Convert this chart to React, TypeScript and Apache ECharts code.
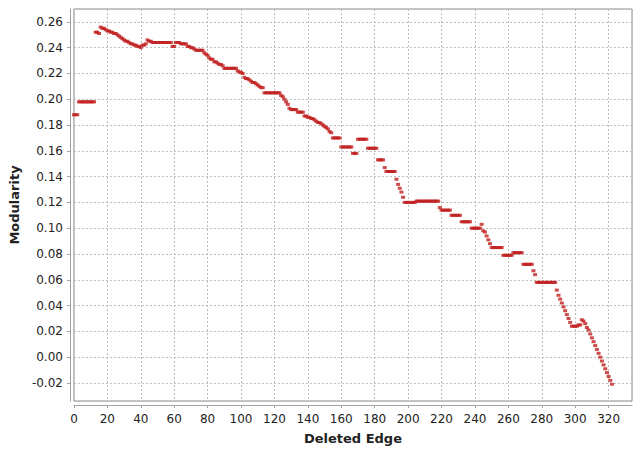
import React, { useEffect, useRef } from 'react';
import * as echarts from 'echarts';

// Modularity value after each deleted edge (index = number of deleted edges)
const modularity: number[] = [
  // 0-12
  0.188, 0.188, 0.188, 0.198, 0.198, 0.198, 0.198, 0.198, 0.198, 0.198, 0.198, 0.198, 0.198,
  // 13-29
  0.252, 0.252, 0.251, 0.256, 0.255, 0.255, 0.254, 0.253, 0.253, 0.252, 0.252, 0.251,
  0.251, 0.250, 0.249, 0.248, 0.247,
  // 30-49
  0.246, 0.245, 0.245, 0.244, 0.243, 0.243, 0.242, 0.242, 0.241, 0.241, 0.240, 0.242,
  0.242, 0.243, 0.246, 0.245, 0.245, 0.244, 0.244, 0.244,
  // 50-72
  0.244, 0.244, 0.244, 0.244, 0.244, 0.244, 0.244, 0.244, 0.244, 0.241, 0.241,
  0.244, 0.244, 0.244, 0.243, 0.243, 0.243, 0.243, 0.241, 0.241, 0.240, 0.240, 0.239,
  // 73-97
  0.238, 0.238, 0.238, 0.238, 0.238, 0.236, 0.235, 0.234, 0.232, 0.231, 0.231,
  0.229, 0.229, 0.228, 0.227, 0.227, 0.226,
  0.224, 0.224, 0.224, 0.224, 0.224, 0.224, 0.224, 0.224,
  // 98-123
  0.222, 0.221, 0.221, 0.220, 0.217, 0.216, 0.216, 0.215, 0.214, 0.213, 0.213, 0.212,
  0.211, 0.210, 0.209, 0.209,
  0.205, 0.205, 0.205, 0.205, 0.205, 0.205, 0.205, 0.205, 0.205, 0.205,
  // 124-154
  0.203, 0.202, 0.200, 0.198, 0.196, 0.193, 0.192, 0.192, 0.192, 0.192,
  0.190, 0.190, 0.190, 0.190, 0.187, 0.187, 0.186, 0.186, 0.185, 0.185, 0.184, 0.183,
  0.182, 0.182, 0.181, 0.180, 0.179, 0.178, 0.177, 0.175, 0.174,
  // 155-186
  0.170, 0.170, 0.170, 0.170, 0.170,
  0.163, 0.163, 0.163, 0.163, 0.163, 0.163, 0.163,
  0.158, 0.158, 0.158,
  0.169, 0.169, 0.169, 0.169, 0.169, 0.169,
  0.162, 0.162, 0.162, 0.162, 0.162, 0.162,
  0.153, 0.153, 0.153, 0.153, 0.147,
  // 187-218
  0.144, 0.144, 0.144, 0.144, 0.144, 0.144,
  0.138, 0.134, 0.131, 0.128, 0.124,
  0.120, 0.120, 0.120, 0.120, 0.120, 0.120, 0.120,
  0.121, 0.121, 0.121, 0.121, 0.121, 0.121, 0.121, 0.121, 0.121, 0.121, 0.121, 0.121, 0.121, 0.121,
  // 219-249
  0.116, 0.114, 0.114, 0.114, 0.114, 0.114, 0.114,
  0.110, 0.110, 0.110, 0.110, 0.110, 0.110,
  0.105, 0.105, 0.105, 0.105, 0.105, 0.105,
  0.100, 0.100, 0.100, 0.100, 0.100, 0.100,
  0.103, 0.098, 0.097, 0.094, 0.091, 0.088,
  // 250-276
  0.085, 0.085, 0.085, 0.085, 0.085, 0.085, 0.085,
  0.079, 0.079, 0.079, 0.079, 0.079, 0.079,
  0.081, 0.081, 0.081, 0.081, 0.081, 0.081,
  0.072, 0.072, 0.072, 0.072, 0.072, 0.072,
  0.067, 0.064,
  // 277-306
  0.058, 0.058, 0.058, 0.058, 0.058, 0.058, 0.058, 0.058, 0.058, 0.058, 0.058, 0.058,
  0.052, 0.048, 0.045, 0.042, 0.039, 0.036, 0.033, 0.030, 0.027,
  0.024, 0.024, 0.024, 0.024, 0.025, 0.025, 0.029, 0.028, 0.026,
  // 307-322
  0.023, 0.021, 0.018, 0.015, 0.012, 0.009, 0.006, 0.003, 0.000,
  -0.003, -0.006, -0.009, -0.012, -0.015, -0.018, -0.021,
];

const xTitle = 'Deleted Edge';
const yTitle = 'Modularity';

const FONT = '"DejaVu Sans", Verdana, sans-serif';

export default function App() {
  const ref = useRef<HTMLDivElement>(null);

  useEffect(() => {
    if (!ref.current) return;
    const chart = echarts.init(ref.current, undefined, { renderer: 'svg' });
    const gridLine = { show: true, lineStyle: { color: '#bcbcbc', type: [2, 2] as any, width: 1 } };
    const axisCommonX = { type: 'value' as const, min: 0, max: 334, interval: 20, position: 'bottom' as const };
    const axisCommonY = { type: 'value' as const, min: -0.034, max: 0.27, splitNumber: 15, position: 'left' as const };
    chart.setOption({
      animation: false,
      backgroundColor: '#ffffff',
      grid: { left: 73, right: 1, top: 9, bottom: 47, show: true, borderColor: '#8a8a8a', borderWidth: 1, backgroundColor: '#ffffff' },
      xAxis: [
        {
          ...axisCommonX,
          axisLine: { show: false, onZero: false },
          axisTick: { show: false },
          axisLabel: { show: false },
          splitLine: gridLine,
        },
        {
          ...axisCommonX,
          offset: 4,
          name: xTitle,
          nameLocation: 'middle',
          nameGap: 27,
          nameTextStyle: { fontFamily: FONT, fontSize: 13, fontWeight: 'bold', color: '#222' },
          axisLine: { show: true, onZero: false, lineStyle: { color: '#a0a0a0', width: 1 } },
          axisTick: { show: true, length: 3, lineStyle: { color: '#a0a0a0' } },
          axisLabel: { fontFamily: FONT, fontSize: 12, color: '#222', margin: 8, showMaxLabel: false },
          splitLine: { show: false },
        },
      ],
      yAxis: [
        {
          ...axisCommonY,
          axisLine: { show: false, onZero: false },
          axisTick: { show: false },
          axisLabel: { show: false },
          splitLine: gridLine,
        },
        {
          ...axisCommonY,
          offset: 4,
          name: yTitle,
          nameLocation: 'middle',
          nameGap: 43,
          nameTextStyle: { fontFamily: FONT, fontSize: 13, fontWeight: 'bold', color: '#222' },
          axisLine: { show: true, onZero: false, lineStyle: { color: '#a0a0a0', width: 1 } },
          axisTick: { show: true, length: 3, lineStyle: { color: '#a0a0a0' } },
          axisLabel: {
            fontFamily: FONT, fontSize: 12, color: '#222', margin: 7,
            showMinLabel: false, showMaxLabel: false,
            formatter: (v: number) => v.toFixed(2),
          },
          splitLine: { show: false },
        },
      ],
      series: [
        {
          type: 'scatter',
          xAxisIndex: 0,
          yAxisIndex: 0,
          data: modularity.map((v, i) => [i, v]),
          symbol: 'rect',
          symbolSize: [4, 3],
          itemStyle: { color: '#c01e1e' },
          silent: true,
        },
      ],
    });
    return () => chart.dispose();
  }, []);

  return <div ref={ref} style={{ width: 633, height: 450, position: 'absolute', left: 0, top: 0 }} />;
}
